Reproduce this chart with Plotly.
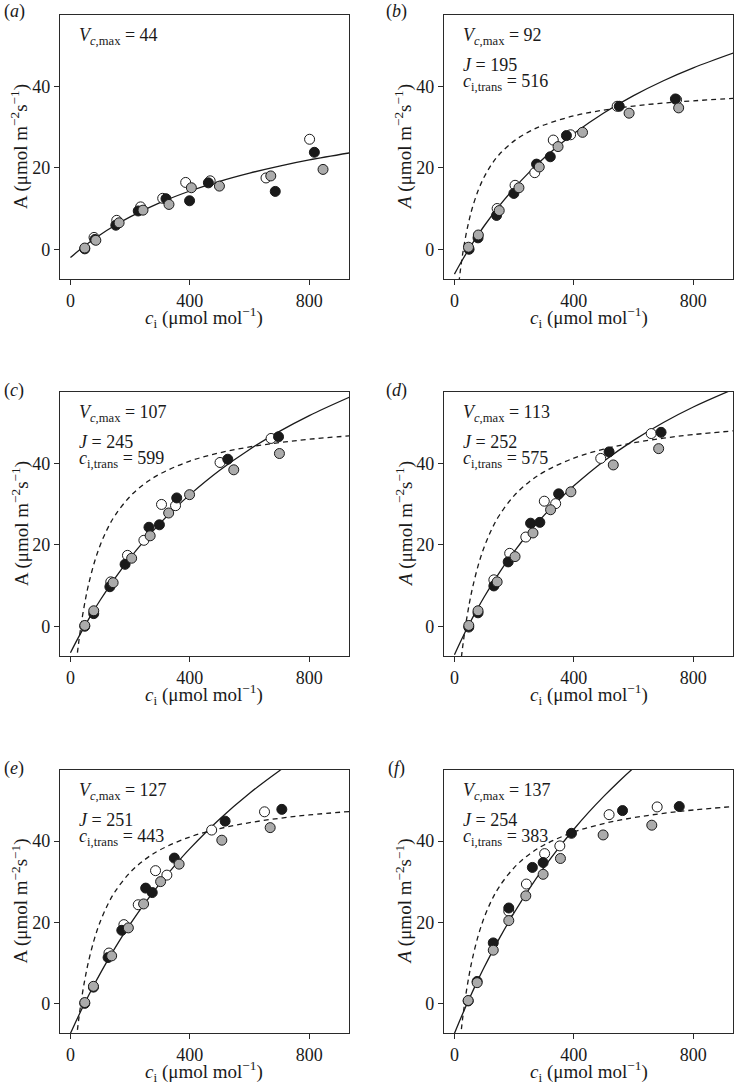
import plotly.graph_objects as go

# ---------------- data ----------------
# panel (a)
a_open_x = [79, 155, 235, 309, 386, 468, 655, 801]
a_open_y = [2.9, 7.1, 10.4, 12.5, 16.4, 16.8, 17.5, 27.0]
a_black_x = [48, 82, 152, 227, 320, 399, 462, 686, 817]
a_black_y = [0.1, 2.4, 5.9, 9.4, 12.4, 11.9, 16.3, 14.2, 23.8]
a_gray_x = [48, 85, 163, 243, 330, 405, 499, 671, 846]
a_gray_y = [0.3, 2.2, 6.5, 9.6, 11.0, 15.1, 15.5, 18.0, 19.6]
a_solid_x = [0, 50, 100, 150, 200, 300, 400, 500, 600, 700, 800, 935]
a_solid_y = [-2.04, 0.96, 3.58, 5.89, 7.95, 11.44, 14.3, 16.69, 18.7, 20.43, 21.93, 23.66]
a_dash_x = []
a_dash_y = []

# panel (b)
b_open_x = [143, 203, 269, 331, 389, 545, 744]
b_open_y = [10.0, 15.7, 18.8, 26.8, 28.1, 35.1, 36.7]
b_black_x = [49, 79, 141, 199, 275, 321, 375, 552, 740]
b_black_y = [0.0, 2.8, 8.3, 13.7, 20.9, 22.7, 27.9, 35.1, 36.9]
b_gray_x = [47, 80, 150, 216, 284, 347, 429, 585, 751]
b_gray_y = [0.5, 3.5, 9.5, 15.1, 20.2, 25.2, 28.7, 33.4, 34.7]
b_solid_x = [0, 25, 50, 75, 100, 150, 200, 250, 300, 350, 400, 500, 600, 700, 800, 935]
b_solid_y = [-6.1, -2.83, 0.23, 3.09, 5.77, 10.65, 14.99, 18.88, 22.38, 25.54, 28.42,
             33.45, 37.71, 41.36, 44.52, 48.18]
b_dash_x = [15, 20, 25, 30, 40, 50, 60, 80, 100, 125, 150, 200, 250, 300, 400, 500, 600, 700, 800, 935]
b_dash_y = [-8.14, -5.09, -2.39, 0.0, 4.07, 7.4, 10.18, 14.54, 17.8, 20.9, 23.26, 26.6, 28.88,
            30.5, 32.74, 34.16, 35.15, 35.88, 36.44, 37.02]

# panel (c)
c_open_x = [135, 191, 246, 305, 352, 501, 672]
c_open_y = [10.9, 17.4, 21.1, 29.9, 29.6, 40.2, 46.1]
c_black_x = [48, 78, 132, 183, 263, 298, 356, 527, 697]
c_black_y = [0.0, 3.1, 9.7, 15.2, 24.3, 24.9, 31.5, 41.0, 46.5]
c_gray_x = [48, 78, 143, 205, 267, 329, 399, 547, 700]
c_gray_y = [0.2, 3.8, 10.7, 16.7, 22.2, 27.8, 32.3, 38.4, 42.4]
c_solid_x = [0, 25, 50, 75, 100, 150, 200, 250, 300, 350, 400, 500, 600, 700, 800, 935]
c_solid_y = [-6.5, -2.97, 0.35, 3.48, 6.44, 11.89, 16.79, 21.2, 25.26, 28.94, 32.31,
             38.29, 43.4, 47.84, 51.72, 56.25]
c_dash_x = [20, 25, 30, 40, 50, 60, 80, 100, 125, 150, 200, 250, 300, 400, 500, 600, 700, 800, 935]
c_dash_y = [-8.7, -5.49, -2.61, 2.37, 6.53, 10.04, 15.66, 19.96, 24.09, 27.29, 31.9, 35.07,
            37.39, 40.54, 42.58, 44.01, 45.08, 45.9, 46.74]

# panel (d)
d_open_x = [132, 185, 239, 301, 339, 490, 659]
d_open_y = [11.4, 17.9, 21.9, 30.7, 30.1, 41.2, 47.3]
d_black_x = [48, 79, 132, 180, 255, 286, 349, 518, 692]
d_black_y = [-0.2, 3.3, 9.9, 15.8, 25.3, 25.5, 32.5, 42.8, 47.6]
d_gray_x = [48, 79, 143, 203, 263, 322, 390, 532, 684]
d_gray_y = [0.2, 3.8, 10.9, 17.1, 22.9, 28.6, 33.0, 39.6, 43.6]
d_solid_x = [0, 25, 50, 75, 100, 150, 200, 250, 300, 350, 400, 500, 600, 700, 800, 935]
d_solid_y = [-7.0, -3.07, 0.6, 4.03, 7.25, 13.12, 18.34, 23.01, 27.21, 31.01, 34.47,
             40.51, 45.63, 50.02, 53.82, 58.2]
d_dash_x = [20, 25, 30, 40, 50, 60, 80, 100, 125, 150, 200, 250, 300, 400, 500, 600, 700, 800, 935]
d_dash_y = [-9.75, -6.53, -3.63, 1.42, 5.65, 9.25, 15.05, 19.52, 23.84, 27.19, 32.07, 35.43,
            37.9, 41.28, 43.48, 45.02, 46.17, 47.05, 47.97]

# panel (e)
e_open_x = [129, 179, 227, 285, 323, 473, 650]
e_open_y = [12.4, 19.4, 24.3, 32.7, 31.6, 42.7, 47.2]
e_black_x = [48, 77, 126, 172, 252, 274, 348, 518, 708]
e_black_y = [0.0, 4.0, 11.3, 18.0, 28.4, 27.3, 35.8, 44.9, 47.8]
e_gray_x = [48, 77, 138, 194, 245, 302, 364, 507, 669]
e_gray_y = [0.2, 4.2, 11.7, 18.6, 24.5, 30.0, 34.3, 40.2, 43.3]
e_solid_x = [0, 25, 50, 75, 100, 150, 200, 250, 300, 350, 400, 500, 600, 700, 750]
e_solid_y = [-7.4, -3.4, 0.39, 3.98, 7.4, 13.74, 19.5, 24.76, 29.59, 34.02, 38.12,
             45.44, 51.78, 57.33, 59.85]
e_dash_x = [20, 25, 30, 40, 50, 60, 80, 100, 125, 150, 200, 250, 300, 400, 500, 600, 700, 800, 935]
e_dash_y = [-8.8, -5.56, -2.64, 2.4, 6.6, 10.15, 15.84, 20.19, 24.37, 27.6, 32.27, 35.48,
            37.82, 41.0, 43.07, 44.53, 45.6, 46.43, 47.28]

# panel (f)
f_open_x = [182, 241, 302, 353, 518, 679]
f_open_y = [22.7, 29.4, 36.9, 38.8, 46.5, 48.4]
f_black_x = [46, 76, 130, 182, 261, 297, 392, 563, 753]
f_black_y = [0.6, 5.4, 14.9, 23.5, 33.5, 34.7, 41.9, 47.5, 48.5]
f_gray_x = [46, 76, 130, 182, 239, 297, 355, 498, 661]
f_gray_y = [0.7, 5.1, 13.1, 20.4, 26.5, 31.8, 35.7, 41.5, 43.9]
f_solid_x = [0, 25, 50, 75, 100, 150, 200, 250, 300, 350, 400, 450, 500, 550, 600, 650]
f_solid_y = [-7.4, -2.98, 1.21, 5.18, 8.95, 15.96, 22.33, 28.15, 33.48, 38.38, 42.91,
             47.11, 51.0, 54.62, 58.01, 61.17]
f_dash_x = [20, 25, 30, 40, 50, 60, 80, 100, 125, 150, 200, 250, 300, 400, 500, 600, 700, 800, 935]
f_dash_y = [-8.6, -5.23, -2.2, 3.0, 7.32, 10.97, 16.78, 21.21, 25.46, 28.73, 33.45, 36.68,
            39.03, 42.23, 44.3, 45.75, 46.83, 47.65, 48.51]

panel_letters = ["a", "b", "c", "d", "e", "f"]
vcmax_vals = [44, 92, 107, 113, 127, 137]
j_vals = [None, 195, 245, 252, 251, 254]
citrans_vals = [None, 516, 599, 575, 443, 383]
x_ticks = [0, 400, 800]
y_ticks = [0, 20, 40]
x_title = "<i>c</i><sub>i</sub> (μmol mol<sup>−1</sup>)"
y_title_plain = "A (μmol m<sup>−2</sup>s<sup>−1</sup>)"
y_title_italic = "<i>A</i> (μmol m<sup>−2</sup>s<sup>−1</sup>)"

# ---------------- layout helpers ----------------
W, H = 734, 1087
FONT = "Liberation Serif, Times New Roman, serif"
INK = "#1a1a1a"
GRAY = "#ababab"

col_px = [(60, 349), (444, 733)]
row_px = [(15, 279), (392, 656), (770, 1033)]


def fx(px):
    return px / W


def fy(py):
    return 1 - py / H


data = {
    "a": (a_open_x, a_open_y, a_black_x, a_black_y, a_gray_x, a_gray_y, a_solid_x, a_solid_y, a_dash_x, a_dash_y),
    "b": (b_open_x, b_open_y, b_black_x, b_black_y, b_gray_x, b_gray_y, b_solid_x, b_solid_y, b_dash_x, b_dash_y),
    "c": (c_open_x, c_open_y, c_black_x, c_black_y, c_gray_x, c_gray_y, c_solid_x, c_solid_y, c_dash_x, c_dash_y),
    "d": (d_open_x, d_open_y, d_black_x, d_black_y, d_gray_x, d_gray_y, d_solid_x, d_solid_y, d_dash_x, d_dash_y),
    "e": (e_open_x, e_open_y, e_black_x, e_black_y, e_gray_x, e_gray_y, e_solid_x, e_solid_y, e_dash_x, e_dash_y),
    "f": (f_open_x, f_open_y, f_black_x, f_black_y, f_gray_x, f_gray_y, f_solid_x, f_solid_y, f_dash_x, f_dash_y),
}

fig = go.Figure()
annotations = []
layout_axes = {}


def txt(x, y, text, size=18, xanchor="center", yanchor="middle", angle=0):
    annotations.append(dict(xref="paper", yref="paper", x=fx(x), y=fy(y), text=text,
                            showarrow=False, xanchor=xanchor, yanchor=yanchor,
                            textangle=angle, font=dict(family=FONT, size=size, color=INK)))


for i, letter in enumerate(panel_letters):
    r, c = divmod(i, 2)
    xa = "x" if i == 0 else f"x{i+1}"
    ya = "y" if i == 0 else f"y{i+1}"
    xkey = "xaxis" if i == 0 else f"xaxis{i+1}"
    ykey = "yaxis" if i == 0 else f"yaxis{i+1}"
    ox, oy, bx, by, gx, gy, sx, sy, dx, dy = data[letter]

    fig.add_trace(go.Scatter(x=sx, y=sy, mode="lines", xaxis=xa, yaxis=ya,
                             line=dict(color=INK, width=1.3, shape="spline"),
                             showlegend=False, hoverinfo="skip"))
    if dx:
        fig.add_trace(go.Scatter(x=dx, y=dy, mode="lines", xaxis=xa, yaxis=ya,
                                 line=dict(color=INK, width=1.3, dash="5px,4px", shape="spline"),
                                 showlegend=False, hoverinfo="skip"))
    for xs, ys, fill in [(ox, oy, "white"), (bx, by, INK), (gx, gy, GRAY)]:
        fig.add_trace(go.Scatter(x=xs, y=ys, mode="markers", xaxis=xa, yaxis=ya,
                                 marker=dict(size=10, color=fill, line=dict(color=INK, width=1)),
                                 showlegend=False))

    x0, x1 = col_px[c]
    y0, y1 = row_px[r]
    common = dict(showline=True, mirror=True, linecolor="#2a2a2a", linewidth=1.3,
                  ticks="outside", ticklen=5, tickwidth=1.2, tickcolor="#2a2a2a",
                  showgrid=False, zeroline=False, automargin=False,
                  tickfont=dict(family=FONT, size=18, color=INK))
    layout_axes[xkey] = dict(common, domain=[fx(x0), fx(x1)], anchor=ya, range=[-35, 933],
                             tickvals=x_ticks)
    layout_axes[ykey] = dict(common, domain=[fy(y1), fy(y0)], anchor=xa, range=[-7.3, 57.5],
                             tickvals=y_ticks)

    # axis titles
    txt((x0 + x1) / 2, y1 + 38, x_title, size=19)
    txt(x0 - 40, (y0 + y1) / 2, y_title_plain if c == 0 else y_title_italic, size=19, angle=-90)

    # panel letter
    lab_x = 14 if c == 0 else 396
    lab_y = 12 if r == 0 else y0 - 2
    txt(lab_x, lab_y, f"(<i>{letter}</i>)", size=18)

    # parameter text
    tx = x0 + 17
    txt(tx, y0 + 21.5, f"<i>V</i><sub><i>c</i>,max</sub> = {vcmax_vals[i]}", xanchor="left")
    if j_vals[i] is not None:
        txt(tx, y0 + 49.5, f"<i>J</i> = {j_vals[i]}", xanchor="left")
        txt(tx, y0 + 67, f"<i>c</i><sub>i,trans</sub> = {citrans_vals[i]}", xanchor="left")

fig.update_layout(
    width=W, height=H,
    margin=dict(l=0, r=0, t=0, b=0),
    paper_bgcolor="white", plot_bgcolor="white",
    showlegend=False, hovermode=False,
    annotations=annotations,
    **layout_axes,
)

# remove the browser's default page margin so the 734x1087 figure fills the window
fig.write_html("out.html",
               config={"displayModeBar": False},
               post_script="document.body.style.margin='0px';document.body.style.padding='0px';")
